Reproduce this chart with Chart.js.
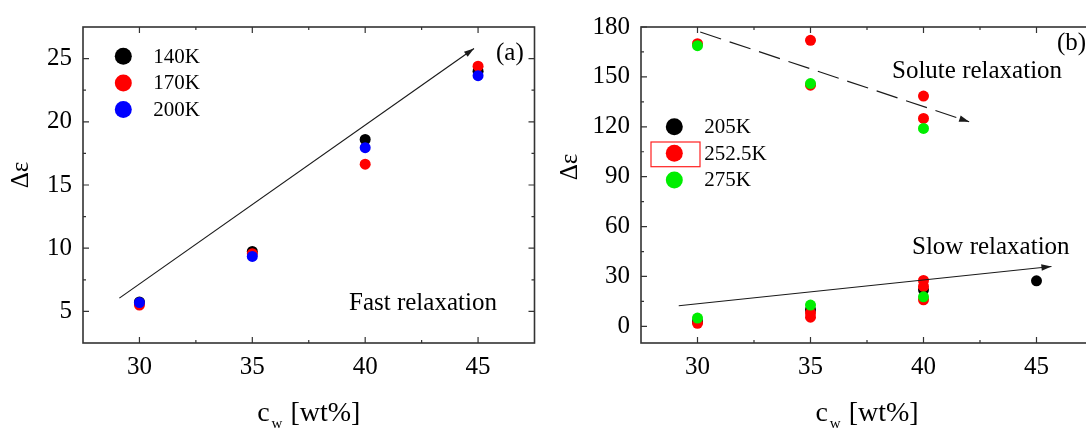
<!DOCTYPE html>
<html>
<head>
<meta charset="utf-8">
<script src="https://cdn.jsdelivr.net/npm/chart.js@4/dist/chart.umd.min.js"></script>
<style>
  html, body { margin: 0; padding: 0; background: #fff; overflow: hidden; }
  #wrap { position: relative; width: 1086px; height: 428px; overflow: hidden; }
  #chartA { position: absolute; left: 0; top: 0; }
  #chartB { position: absolute; left: 540px; top: 0; }
</style>
</head>
<body>
<div id="wrap">
  <canvas id="chartA" width="540" height="428"></canvas>
  <canvas id="chartB" width="560" height="428"></canvas>
</div>
<script>
// panel (a): fast relaxation strength vs water content
const cwA = [30, 35, 40, 45];
const fast140 = [5.75, 9.74, 18.6, 24.0];
const fast170 = [5.5, 9.56, 16.65, 24.4];
const fast200 = [5.7, 9.35, 17.95, 23.65];

// panel (b): solute + slow relaxation, several points per concentration
const cw205 = [30, 35, 40, 45];
const eps205 = [3, 10, 22, 27.4];
const cw252 = [30, 30, 35, 35, 35, 35, 40, 40, 40, 40, 40];
const eps252 = [170, 1.8, 172, 145, 8, 5.5, 138.5, 125, 27.6, 24, 16];
const cw275 = [30, 30, 35, 35, 40, 40];
const eps275 = [168.8, 5, 146, 12.8, 119, 17.8];

// tick labels
const xTicks = [30, 35, 40, 45];
const xMinor = [32.5, 37.5, 42.5];
const yTicksA = [5, 10, 15, 20, 25];
const yMinorA = [7.5, 12.5, 17.5, 22.5];
const yTicksB = [0, 30, 60, 90, 120, 150, 180];
const yMinorB = [15, 45, 75, 105, 135, 165];

const SERIF = "'Liberation Serif', 'Times New Roman', serif";
Chart.defaults.font.family = SERIF;
Chart.defaults.font.size = 25;
Chart.defaults.color = '#000';

const pts = (xs, ys) => xs.map((x, i) => ({ x: x, y: ys[i] }));

function drawArrow(ctx, x1, y1, x2, y2, dash) {
    ctx.save();
    ctx.strokeStyle = '#1a1a1a';
    ctx.fillStyle = '#1a1a1a';
    ctx.lineWidth = 1.2;
    ctx.setLineDash(dash || []);
    ctx.beginPath();
    ctx.moveTo(x1, y1);
    ctx.lineTo(x2, y2);
    ctx.stroke();
    ctx.setLineDash([]);
    const a = Math.atan2(y2 - y1, x2 - x1), L = 10, W = 3.2;
    ctx.beginPath();
    ctx.moveTo(x2, y2);
    ctx.lineTo(x2 - L * Math.cos(a) + W * Math.sin(a), y2 - L * Math.sin(a) - W * Math.cos(a));
    ctx.lineTo(x2 - L * Math.cos(a) - W * Math.sin(a), y2 - L * Math.sin(a) + W * Math.cos(a));
    ctx.closePath();
    ctx.fill();
    ctx.restore();
}

// frame, inward ticks, arrows, notes, legend and axis titles
const decor = {
    id: 'decor',
    afterDraw(chart, args, o) {
        const { ctx, chartArea: ca } = chart;
        const x = chart.scales.x, y = chart.scales.y;
        ctx.save();

        ctx.strokeStyle = '#333';
        ctx.lineWidth = 1.2;
        const tx = (v, len) => {
            const p = x.getPixelForValue(v);
            ctx.beginPath();
            ctx.moveTo(p, ca.bottom); ctx.lineTo(p, ca.bottom - len);
            ctx.moveTo(p, ca.top); ctx.lineTo(p, ca.top + len);
            ctx.stroke();
        };
        const ty = (v, len) => {
            const p = y.getPixelForValue(v);
            ctx.beginPath();
            ctx.moveTo(ca.left, p); ctx.lineTo(ca.left + len, p);
            ctx.moveTo(ca.right, p); ctx.lineTo(ca.right - len, p);
            ctx.stroke();
        };
        xTicks.forEach(v => tx(v, 6));
        o.xMinor.forEach(v => tx(v, 3));
        o.yTicks.forEach(v => ty(v, 6));
        o.yMinor.forEach(v => ty(v, 3));

        ctx.lineWidth = 1.6;
        ctx.strokeRect(ca.left, ca.top, ca.right - ca.left, ca.bottom - ca.top);

        o.arrows.forEach(a => drawArrow(ctx,
            x.getPixelForValue(a.from[0]), y.getPixelForValue(a.from[1]),
            x.getPixelForValue(a.to[0]), y.getPixelForValue(a.to[1]), a.dash));

        ctx.fillStyle = '#000';
        ctx.textBaseline = 'middle';
        ctx.textAlign = 'left';
        o.notes.forEach(n => {
            ctx.font = `${n.size}px ${SERIF}`;
            ctx.fillText(n.text, n.x, n.y);
        });

        // legend
        const lg = o.legend;
        chart.data.datasets.forEach((ds, i) => {
            const cy = lg.y + i * lg.gap;
            ctx.fillStyle = ds.backgroundColor;
            ctx.beginPath();
            ctx.arc(lg.x, cy, 8.5, 0, Math.PI * 2);
            ctx.fill();
            ctx.fillStyle = '#000';
            ctx.font = `21px ${SERIF}`;
            ctx.fillText(ds.label, lg.x + 30, cy + 1);
        });
        if (lg.box) {
            ctx.strokeStyle = '#ff2020';
            ctx.lineWidth = 1.2;
            ctx.strokeRect(lg.box[0], lg.box[1], lg.box[2], lg.box[3]);
        }

        // y title
        ctx.fillStyle = '#000';
        ctx.save();
        ctx.translate(o.yTitle[0], o.yTitle[1]);
        ctx.rotate(-Math.PI / 2);
        ctx.textAlign = 'center';
        ctx.font = `25px ${SERIF}`;
        ctx.fillText('\u0394\u03b5', 0, 0);
        ctx.restore();

        // x title: c_w [wt%]
        ctx.textBaseline = 'alphabetic';
        ctx.font = `28px ${SERIF}`;
        const wC = ctx.measureText('c').width;
        const wR = ctx.measureText(' [wt%]').width;
        ctx.font = `15px ${SERIF}`;
        const wW = ctx.measureText('w').width;
        let sx = (ca.left + ca.right) / 2 - (wC + wW + wR + 3) / 2;
        const base = 421;
        ctx.font = `28px ${SERIF}`;
        ctx.fillText('c', sx, base);
        ctx.font = `15px ${SERIF}`;
        ctx.fillText('w', sx + wC + 2, base + 7);
        ctx.font = `28px ${SERIF}`;
        ctx.fillText(' [wt%]', sx + wC + wW + 3, base);

        ctx.restore();
    }
};

function makeChart(id, datasets, yMin, yMax, yTicks, yWidth, padRight, deco) {
    return new Chart(document.getElementById(id), {
        type: 'scatter',
        data: { datasets: datasets },
        options: {
            responsive: false,
            animation: false,
            layout: { padding: { top: 27, right: padRight, left: 0, bottom: 0 } },
            plugins: { legend: { display: false }, tooltip: { enabled: false }, decor: deco },
            elements: { point: { radius: 5.5, borderWidth: 0 } },
            scales: {
                x: {
                    type: 'linear', min: 27.5, max: 47.5,
                    afterBuildTicks: s => { s.ticks = xTicks.map(v => ({ value: v })); },
                    afterFit: s => { s.height = 85; s.paddingLeft = 0; s.paddingRight = 0; },
                    grid: { display: false, drawTicks: false },
                    border: { display: false },
                    ticks: { font: { family: SERIF, size: 25 }, color: '#000', padding: 9, maxRotation: 0 }
                },
                y: {
                    type: 'linear', min: yMin, max: yMax,
                    afterBuildTicks: s => { s.ticks = yTicks.map(v => ({ value: v })); },
                    afterFit: s => { s.width = yWidth; s.paddingTop = 0; s.paddingBottom = 0; },
                    grid: { display: false, drawTicks: false },
                    border: { display: false },
                    ticks: { font: { family: SERIF, size: 25 }, color: '#000', padding: 11 }
                }
            }
        },
        plugins: [decor]
    });
}

// order: lower number drawn on top
makeChart('chartA', [
    { label: '140K', data: pts(cwA, fast140), backgroundColor: '#000000', order: 3 },
    { label: '170K', data: pts(cwA, fast170), backgroundColor: '#ff0000', order: 2 },
    { label: '200K', data: pts(cwA, fast200), backgroundColor: '#0000ff', order: 1 }
], 2.5, 27.5, yTicksA, 83, 5, {
    xMinor: xMinor, yTicks: yTicksA, yMinor: yMinorA,
    arrows: [{ from: [29.11, 6.05], to: [44.82, 25.8] }],
    notes: [
        { text: '(a)', x: 496, y: 53, size: 25 },
        { text: 'Fast relaxation', x: 349, y: 303, size: 25 }
    ],
    legend: { x: 123.3, y: 56.3, gap: 26.6 },
    yTitle: [21, 175]
});

makeChart('chartB', [
    { label: '205K', data: pts(cw205, eps205), backgroundColor: '#000000', order: 3 },
    { label: '252.5K', data: pts(cw252, eps252), backgroundColor: '#ff0000', order: 2 },
    { label: '275K', data: pts(cw275, eps275), backgroundColor: '#00ee00', order: 1 }
], -10, 180, yTicksB, 101, 7, {
    xMinor: xMinor, yTicks: yTicksB, yMinor: yMinorB,
    arrows: [
        { from: [30.12, 177], to: [42.02, 123], dash: [22, 9] },
        { from: [29.17, 12.4], to: [45.66, 36] }
    ],
    notes: [
        { text: '(b)', x: 517, y: 43, size: 25 },
        { text: 'Solute relaxation', x: 352, y: 71, size: 25 },
        { text: 'Slow relaxation', x: 372, y: 247, size: 25 }
    ],
    legend: { x: 134.3, y: 126.7, gap: 26.6, box: [111, 142, 49, 24.7] },
    yTitle: [30, 167]
});
</script>
</body>
</html>
